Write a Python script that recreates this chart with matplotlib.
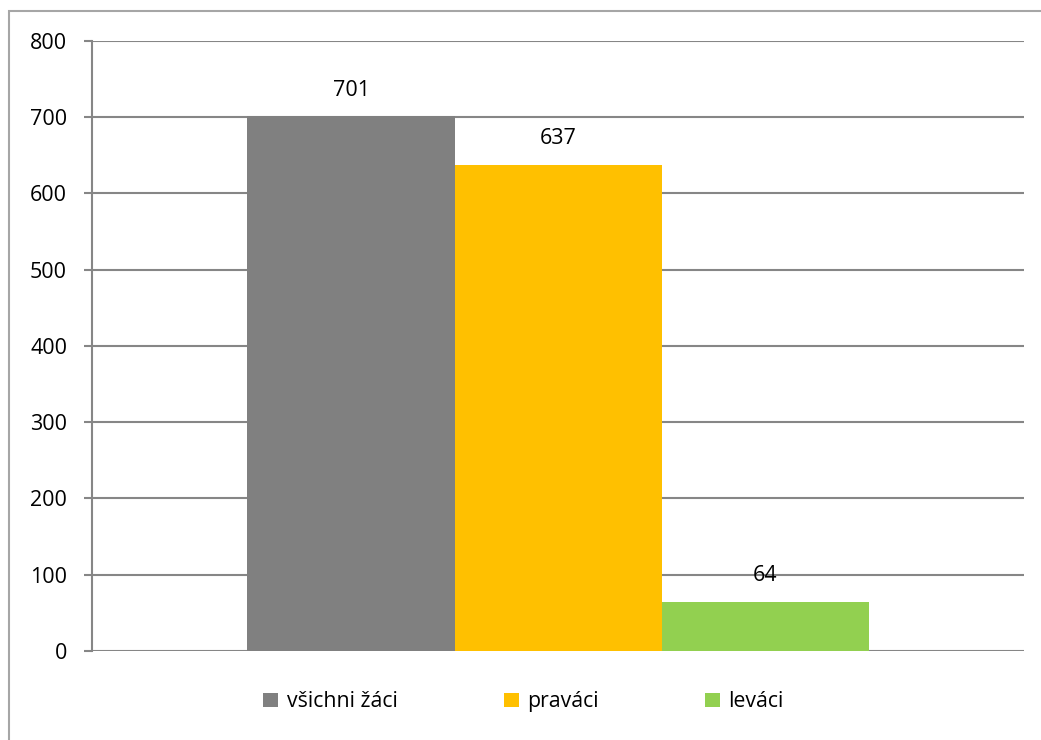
import matplotlib.pyplot as plt
from matplotlib.patches import Rectangle

series = ["všichni žáci", "praváci", "leváci"]
values = [701, 637, 64]
colors = ["#808080", "#FFC000", "#92D050"]
yticks = [0, 100, 200, 300, 400, 500, 600, 700, 800]

plt.rcParams["font.family"] = ["Open Sans", "DejaVu Sans"]

fig = plt.figure(figsize=(10.41, 7.40), dpi=100)
ax = fig.add_axes([0.0884, 0.1203, 0.8953, 0.8243])

# outer chart border (only left/top visible in the crop)
fig.patches.append(Rectangle((9 / 1041, -0.1), 1.2, 1 - 11 / 740 + 0.1,
                             transform=fig.transFigure, fill=False,
                             edgecolor="#a6a6a6", linewidth=1.5))

positions = [-1, 0, 1]
for pos, val, col, name in zip(positions, values, colors, series):
    ax.bar(pos, val, width=1.0, color=col, label=name, zorder=3)
    ax.annotate(str(val), (pos, val), xytext=(0, 11.5), textcoords="offset points",
                ha="center", va="bottom", fontsize=15.5)

ax.set_xlim(-2.251, 2.251)
ax.set_ylim(0, 800)
ax.set_yticks(yticks)
ax.set_xticks([])
ax.yaxis.grid(True, color="#868686", linewidth=1.5, zorder=0)
ax.tick_params(axis="y", length=6, width=1.5, color="#868686", labelsize=15.5, pad=12)
for side in ["top", "right", "bottom"]:
    ax.spines[side].set_visible(False)
ax.spines["left"].set_color("#868686")
ax.spines["left"].set_linewidth(1.5)

ax.legend(loc="upper center", bbox_to_anchor=(0.463, -0.035), ncol=3, frameon=False,
          fontsize=15.3, handlelength=0.7, handleheight=0.7, handletextpad=0.4,
          columnspacing=5.0)

fig.savefig("out.png", dpi=100)
